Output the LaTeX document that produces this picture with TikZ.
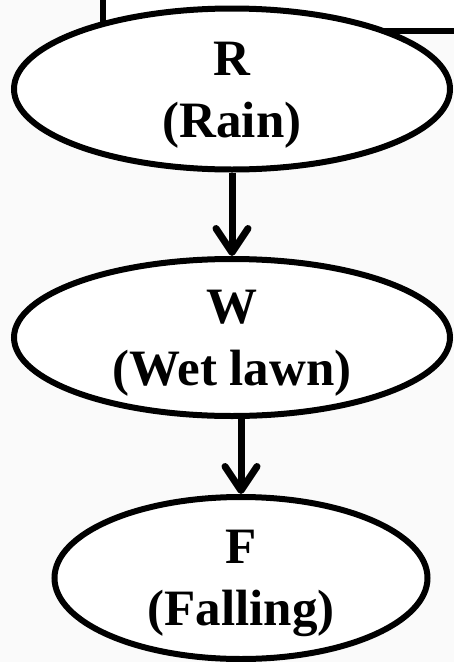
\documentclass[tikz,border=0pt]{standalone}
\usepackage{fontspec}
\setmainfont{Liberation Serif}
\usetikzlibrary{shapes.geometric,arrows.meta}

% raises the top of the first line so the two-line label sits a little low
\newcommand\firstline{\rule{0pt}{45pt}}

\tikzset{
  var/.style={ellipse, draw=black, fill=white, line width=6pt,
    inner sep=0pt, inner ysep=-14pt, align=center,
    font=\bfseries\fontsize{51}{62}\selectfont},
  flow/.style={line width=7pt,
    -{Straight Barb[length=24pt,width=32pt,round]}},
  frame/.style={draw=black, fill=white, line width=6pt}
}

\begin{document}
\begin{tikzpicture}[x=1pt,y=-1pt]
  \useasboundingbox (0,0) rectangle (454,662);
  \clip (0,0) rectangle (454,662);
  \fill[black!2] (0,0) rectangle (454,662);

  % panel behind the top variable
  \draw[frame] (102.5,-20) rectangle (480,30.5);

  \node[var, minimum width=436pt, minimum height=161pt] (R) at (232,89)
    {\firstline R\\(Rain)};
  \node[var, minimum width=436pt, minimum height=157pt] (W) at (232,337.5)
    {\firstline W\\(Wet lawn)};
  \node[var, minimum width=373pt, minimum height=162pt] (F) at (241,578)
    {\firstline F\\(Falling)};

  \draw[flow] (R.south) -- (W.north);
  \draw[flow] (W.south -| F.north) -- (F.north);
\end{tikzpicture}
\end{document}
